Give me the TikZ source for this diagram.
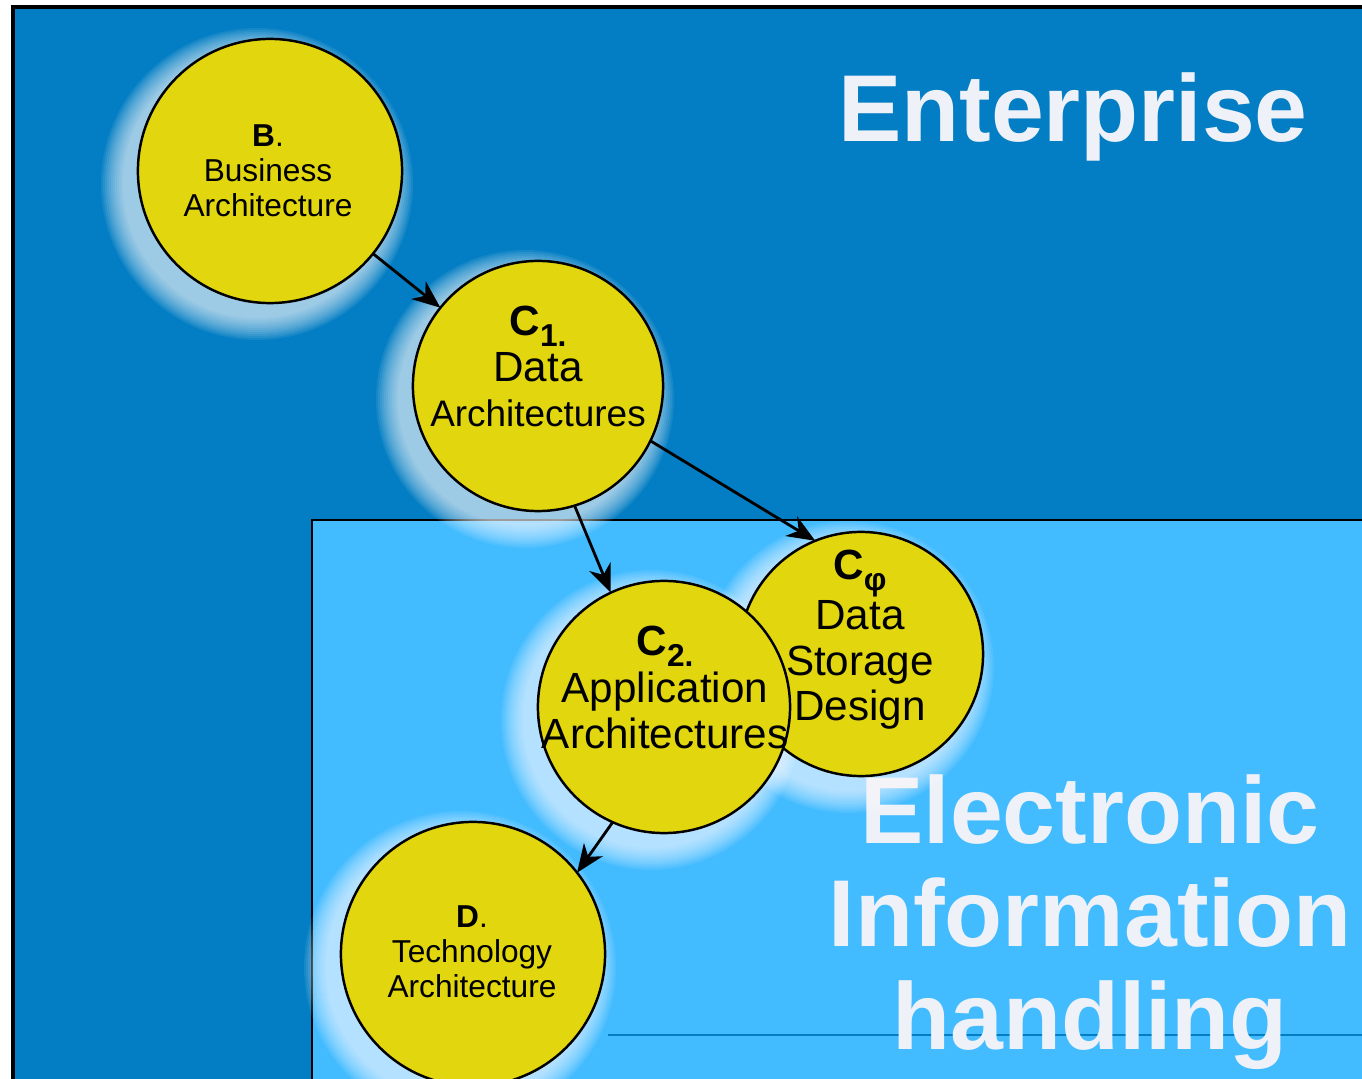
\documentclass[tikz,border=0pt]{standalone}
\usepackage{fontspec}
\setmainfont{Liberation Sans}
\usetikzlibrary{arrows.meta}
\definecolor{enterblue}{RGB}{3,125,195}
\definecolor{infoblue}{RGB}{66,187,255}
\definecolor{ballyellow}{RGB}{226,214,14}
\definecolor{titlewhite}{RGB}{238,242,248}
\newcommand{\lowsub}[1]{\raisebox{-0.5ex}{\fontsize{9}{9}\selectfont #1}}
\begin{document}
\begin{tikzpicture}[x=0.01cm, y=-0.01cm,
    ball/.style={circle, draw=black, line width=0.7pt, fill=ballyellow, inner sep=0pt, outer sep=0pt},
    balltext/.style={align=center, text=black, anchor=base},
    arrow/.style={-{Stealth[length=8pt, width=6.5pt, inset=2.5pt]}, line width=0.8pt, black},
    title/.style={text=titlewhite, font=\fontsize{27}{29.3}\selectfont\bfseries, align=center, anchor=base}
]
\useasboundingbox (0,0) rectangle (1362,1079);
% Background areas
\fill[white] (0,0) rectangle (1362,1079);
\fill[enterblue] (13,7) rectangle (1362,1079);
\draw[line width=0.9pt] (13,1079) -- (13,7) -- (1362,7);
\fill[infoblue] (312,520) rectangle (1362,1079);
\draw[line width=0.6pt] (312,1079) -- (312,520) -- (1362,520);
\draw[enterblue, line width=0.3pt] (608,1035) -- (1362,1035);
% Titles
\node[title] (ent) at (1073,142) {Enterprise};
\node[title] (eih) at (1090,1050) {Electronic\\Information\\handling};
% Glows
\foreach \x/\y/\r in {270/171/132, 538/386/125, 861/654/122, 664/707/126, 473/954/132} {
    \foreach \k in {1,...,12}
        \fill[white, opacity=0.08] (\x-13,\y+13) circle[radius=\r+2*\k];
}
% Circles
\node[ball, minimum size=2.64cm] (B) at (270,171) {};
\node[ball, minimum size=2.5cm] (C1) at (538,386) {};
\node[ball, minimum size=2.44cm] (Cphi) at (861,654) {};
\node[ball, minimum size=2.52cm] (C2) at (664,707) {};
\node[ball, minimum size=2.64cm] (D) at (473,954) {};
% Texts
\node[balltext, font=\fontsize{9}{10}\selectfont] (Bt) at (268,217) {\textbf{B}.\\Business\\Architecture};
\node[balltext, font=\fontsize{12}{13}\selectfont] (C1t) at (538,427) {\textbf{C\lowsub{1.}}\\Data\\{\fontsize{10.5}{12}\selectfont Architectures}};
\node[balltext, font=\fontsize{12}{13}\selectfont] (Cphit) at (860,721) {\textbf{C\lowsub{φ}}\\Data\\Storage\\Design};
\node[balltext, font=\fontsize{12}{13.3}\selectfont] (C2t) at (665,749) {\textbf{C\lowsub{2.}}\\Application\\Architectures};
\node[balltext, font=\fontsize{9}{10}\selectfont] (Dt) at (472,998) {\textbf{D}.\\Technology\\Architecture};
% Arrows
\draw[arrow] (B) -- (C1);
\draw[arrow] (C1.-26) -- (Cphi.112);
\draw[arrow] (C1.-73) -- (C2.115);
\draw[arrow] (C2.-114) -- (D.38);
\end{tikzpicture}
\end{document}
